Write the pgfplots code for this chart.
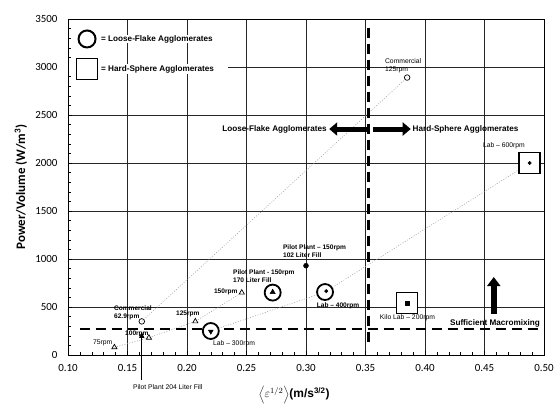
\documentclass[border=0pt]{standalone}
\usepackage{fontspec}
\setmainfont{Liberation Sans}
\newfontfamily\calibri{Carlito}
\usepackage{pgfplots}
\pgfplotsset{compat=1.18}
\usetikzlibrary{arrows.meta}
\newcommand{\sm}{\fontsize{6.8}{7.8}\selectfont}
\newcommand{\smb}{\fontsize{6.6}{7.8}\selectfont\bfseries}
\newcommand{\midb}{\fontsize{8.2}{9}\selectfont\bfseries}
\begin{document}
\begin{tikzpicture}
\begin{axis}[
  scale only axis, width=476bp, height=336bp,
  xmin=0.1, xmax=0.5, ymin=0, ymax=3500,
  xtick={0.10,0.15,0.20,0.25,0.30,0.35,0.40,0.45,0.50},
  ytick={0,500,1000,1500,2000,2500,3000,3500},
  minor x tick num=4, minor y tick num=4,
  tick pos=left, tick align=inside,
  major tick length=4bp, minor tick length=3bp,
  tick style={black, line width=0.5pt},
  grid=major, major grid style={black!85, line width=0.6pt},
  axis line style={black, line width=0.8pt},
  /pgf/number format/assume math mode=true,
  ticklabel style={font=\calibri\fontsize{11}{12}\selectfont},
  x tick label style={/pgf/number format/.cd, fixed, fixed zerofill, precision=2, /tikz/.cd, yshift=-6bp},
  y tick label style={/pgf/number format/.cd, 1000 sep={}, /tikz/.cd, xshift=-7bp},
  clip=false,
  xlabel={$\left\langle \varepsilon^{1/2}\right\rangle$\textbf{(m/s\textsuperscript{3/2})}},
  xlabel style={at={(axis description cs:0.475,-0.119)}, anchor=center, font=\fontsize{12}{13}\selectfont},
  ylabel={\calibri\bfseries Power/Volume (W/m\textsuperscript{3})},
  ylabel style={at={(axis description cs:-0.099,0.5)}, anchor=center, font=\fontsize{13}{14}\selectfont},
]
% legend background
\fill[white] (axis cs:0.1005,2925) rectangle (axis cs:0.2345,3035);
\fill[white] (axis cs:0.127,3255) rectangle (axis cs:0.2325,3330);

% trend lines
\addplot[gray!80, line width=0.5pt, dash pattern=on 1pt off 1.6pt] coordinates {(0.162,350) (0.385,2890)};
\addplot[gray!80, line width=0.5pt, dash pattern=on 1pt off 1.6pt] coordinates {(0.139,80) (0.168,180) (0.207,350) (0.246,650)};
\addplot[gray!80, line width=0.5pt, dash pattern=on 1pt off 1.6pt] coordinates {(0.22,250) (0.316,656) (0.488,2000)};

% dashed boundaries
\addplot[black, line width=2.2pt, dash pattern=on 10bp off 6bp] coordinates {(0.11,270) (0.497,270)};
\addplot[black, line width=2.6pt, dash pattern=on 10bp off 6bp] coordinates {(0.3525,3410) (0.3525,130)};

% big circles (loose-flake)
\addplot[only marks, mark=*, mark size=8bp, mark options={line width=1.8pt, draw=black, fill=white}] coordinates {(0.22,250) (0.316,656) (0.272,650)};
% big squares (hard-sphere)
\addplot[only marks, mark=square*, mark size=10.5bp, mark options={line width=1.6pt, draw=black, fill=white}] coordinates {(0.488,2000) (0.385,540)};
% inner marks
\addplot[only marks, mark=triangle*, mark size=2.8bp, mark options={rotate=180, fill=black}] coordinates {(0.22,245)};
\addplot[only marks, mark=*, mark size=1.7bp, mark options={fill=black}] coordinates {(0.317,665) (0.488,2000)};
\addplot[only marks, mark=triangle*, mark size=3bp, mark options={fill=black}] coordinates {(0.272,655)};
\addplot[only marks, mark=square*, mark size=2.3bp, mark options={fill=black}] coordinates {(0.385,540)};
% small open markers
\addplot[only marks, mark=triangle, mark size=3bp, mark options={line width=0.7pt, draw=black}] coordinates {(0.139,80) (0.168,180) (0.207,350) (0.246,650)};
\addplot[only marks, mark=o, mark size=2.8bp, mark options={line width=0.7pt, draw=black}] coordinates {(0.162,350) (0.385,2890)};
\addplot[only marks, mark=*, mark size=2.5bp, mark options={fill=black}] coordinates {(0.30,930)};

% legend
\addplot[only marks, mark=o, mark size=8.5bp, mark options={line width=2pt, draw=black}] coordinates {(0.116,3292)};
\addplot[only marks, mark=square, mark size=10.5bp, mark options={line width=1.8pt, draw=black}] coordinates {(0.116,2979)};
\node[anchor=west, inner sep=0pt, font=\midb] at (axis cs:0.1277,3292) {= Loose-Flake Agglomerates};
\node[anchor=west, inner sep=0pt, font=\midb] at (axis cs:0.1277,2979) {= Hard-Sphere Agglomerates};

% region arrows
\node[anchor=east, inner sep=0pt, font=\midb] at (axis cs:0.3176,2354) {Loose-Flake Agglomerates};
\draw[line width=5bp, -{Triangle[length=8bp,width=13bp]}] (axis cs:0.3512,2354) -- (axis cs:0.3195,2354);
\draw[line width=5bp, -{Triangle[length=8bp,width=13bp]}] (axis cs:0.3562,2354) -- (axis cs:0.3880,2354);
\node[anchor=west, inner sep=0pt, font=\midb] at (axis cs:0.3895,2354) {Hard-Sphere Agglomerates};
\draw[line width=6bp, -{Triangle[length=9bp,width=13bp]}] (axis cs:0.4578,430) -- (axis cs:0.4578,812);
\node[anchor=west, inner sep=0pt, font=\midb] at (axis cs:0.4209,333) {Sufficient Macromixing};

% point labels
\node[anchor=west, inner sep=0pt, align=left, font=\sm] at (axis cs:0.3663,3010) {Commercial\\125rpm};
\node[anchor=west, inner sep=0pt, font=\sm] at (axis cs:0.4486,2177) {Lab -- 600rpm};
\node[anchor=west, inner sep=0pt, font=\sm] at (axis cs:0.362,385) {Kilo Lab -- 200rpm};
\node[anchor=west, inner sep=0pt, font=\smb] at (axis cs:0.309,510) {Lab -- 400rpm};
\node[anchor=west, inner sep=0pt, align=left, font=\smb] at (axis cs:0.2806,1083) {Pilot Plant -- 150rpm\\102 Liter Fill};
\node[anchor=west, inner sep=0pt, align=left, font=\smb] at (axis cs:0.2386,818) {Pilot Plant - 150rpm\\170 Liter Fill};
\node[anchor=west, inner sep=0pt, font=\smb] at (axis cs:0.2226,656) {150rpm};
\node[anchor=west, inner sep=0pt, font=\smb] at (axis cs:0.1907,427) {125rpm};
\node[anchor=west, inner sep=0pt, font=\sm] at (axis cs:0.2218,115) {Lab -- 300rpm};
\node[anchor=west, inner sep=0pt, align=left, font=\smb] at (axis cs:0.1386,443) {Commercial\\62.9rpm};
\node[anchor=west, inner sep=0pt, font=\smb] at (axis cs:0.1479,219) {100rpm};
\node[anchor=west, inner sep=0pt, font=\sm] at (axis cs:0.121,125) {75rpm};
\node[anchor=west, inner sep=0pt, font=\sm] at (axis cs:0.1546,-333) {Pilot Plant 204 Liter Fill};
\draw[line width=1.2pt, -{Triangle[length=6bp,width=5bp]}] (axis cs:0.162,-265) -- (axis cs:0.162,240);
\end{axis}
\pgfresetboundingbox
\path (-68bp,-53bp) rectangle (487bp,355bp);
\end{tikzpicture}
\end{document}
